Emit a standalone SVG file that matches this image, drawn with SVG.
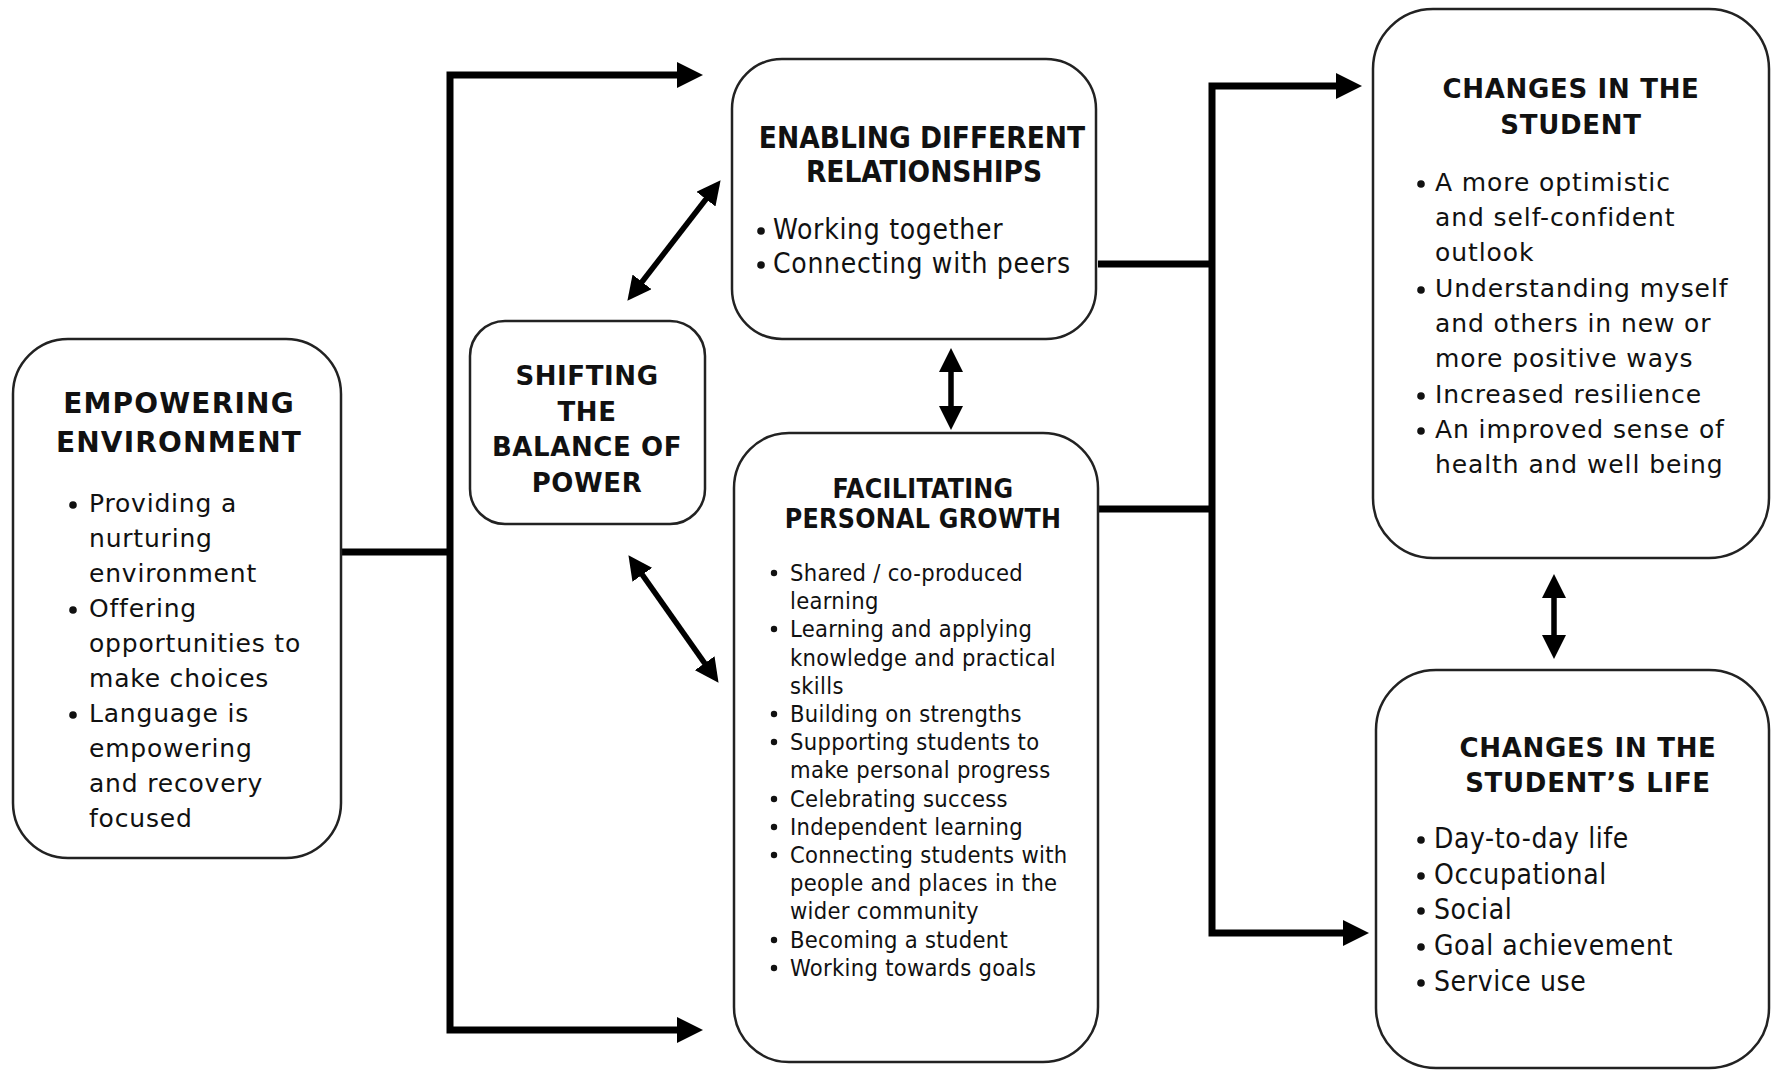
<svg xmlns="http://www.w3.org/2000/svg" width="1771" height="1070" viewBox="0 0 1771 1070">
<defs>
<marker id="ah" markerUnits="userSpaceOnUse" markerWidth="26" markerHeight="26" refX="6" refY="13" orient="auto-start-reverse">
<path d="M0,0 L26,13 L0,26 z" fill="#000"/>
</marker>
<marker id="dh" markerUnits="userSpaceOnUse" markerWidth="24" markerHeight="24" refX="5" refY="12" orient="auto-start-reverse">
<path d="M0,0 L24,12 L0,24 z" fill="#000"/>
</marker>
</defs>
<style>
.box{fill:#fff;stroke:#222;stroke-width:2.5}
.t{font-family:"DejaVu Sans",Verdana,sans-serif;fill:#111}
.tb{font-family:"DejaVu Sans",Verdana,sans-serif;font-weight:bold;fill:#111;text-anchor:middle}
.c{font-family:"DejaVu Sans Condensed","DejaVu Sans",sans-serif;font-stretch:condensed;fill:#111}
.cb{font-family:"DejaVu Sans Condensed","DejaVu Sans",sans-serif;font-stretch:condensed;font-weight:bold;fill:#111;text-anchor:middle}
.dot{fill:#111}
.con{fill:none;stroke:#000;stroke-width:7;stroke-linejoin:miter}
.dbl{fill:none;stroke:#000;stroke-width:5.5}
</style>
<rect width="1771" height="1070" fill="#fff"/>

<g id="connectors">
<path class="con" d="M341,552 H450"/>
<path class="con" d="M683,75 H450 V1030 H683" marker-start="url(#ah)" marker-end="url(#ah)"/>
<path class="con" d="M1098,264 H1212"/>
<path class="con" d="M1098,509 H1212"/>
<path class="con" d="M1342,86 H1212 V933 H1349" marker-start="url(#ah)" marker-end="url(#ah)"/>
<path class="dbl" d="M639,285.8 L709,195.2" marker-start="url(#dh)" marker-end="url(#dh)"/>
<path class="dbl" d="M639.4,570.7 L707.6,667.3" marker-start="url(#dh)" marker-end="url(#dh)"/>
<path class="dbl" d="M951,367 V411" marker-start="url(#dh)" marker-end="url(#dh)"/>
<path class="dbl" d="M1554,593 V640" marker-start="url(#dh)" marker-end="url(#dh)"/>
</g>

<g id="empowering">
<rect class="box" x="13" y="339" width="328" height="519" rx="55"/>
<text class="tb" font-size="28" letter-spacing="1.2" x="179" y="413">EMPOWERING</text>
<text class="tb" font-size="28" letter-spacing="1.2" x="179" y="452">ENVIRONMENT</text>
<g class="t" font-size="25" letter-spacing="0.8">
<text x="89" y="512">Providing a</text>
<text x="89" y="547">nurturing</text>
<text x="89" y="582">environment</text>
<text x="89" y="617">Offering</text>
<text x="89" y="652">opportunities to</text>
<text x="89" y="687">make choices</text>
<text x="89" y="722">Language is</text>
<text x="89" y="757">empowering</text>
<text x="89" y="792">and recovery</text>
<text x="89" y="827">focused</text>
</g>
<circle class="dot" cx="73" cy="505" r="3.8"/>
<circle class="dot" cx="73" cy="610" r="3.8"/>
<circle class="dot" cx="73" cy="715" r="3.8"/>
</g>

<g id="shifting">
<rect class="box" x="470" y="321" width="235" height="203" rx="35"/>
<g class="tb" font-size="26" letter-spacing="0.6">
<text x="587" y="385">SHIFTING</text>
<text x="587" y="421">THE</text>
<text x="587" y="456">BALANCE OF</text>
<text x="587" y="492">POWER</text>
</g>
</g>

<g id="enabling">
<rect class="box" x="732" y="59" width="364" height="280" rx="50"/>
<text class="cb" font-size="29.5" x="922" y="148">ENABLING DIFFERENT</text>
<text class="cb" font-size="29.5" x="924" y="182">RELATIONSHIPS</text>
<g class="c" font-size="28" letter-spacing="0.7">
<text x="773" y="239">Working together</text>
<text x="773" y="273">Connecting with peers</text>
</g>
<circle class="dot" cx="761" cy="231" r="3.8"/>
<circle class="dot" cx="761" cy="265" r="3.8"/>
</g>

<g id="facilitating">
<rect class="box" x="734" y="433" width="364" height="629" rx="55"/>
<text class="cb" font-size="26.5" letter-spacing="0.3" x="923" y="498">FACILITATING</text>
<text class="cb" font-size="26.5" letter-spacing="0.3" x="923" y="528">PERSONAL GROWTH</text>
<g class="c" font-size="23.5" letter-spacing="0.3">
<text x="790" y="581">Shared / co-produced</text>
<text x="790" y="609">learning</text>
<text x="790" y="637">Learning and applying</text>
<text x="790" y="666">knowledge and practical</text>
<text x="790" y="694">skills</text>
<text x="790" y="722">Building on strengths</text>
<text x="790" y="750">Supporting students to</text>
<text x="790" y="778">make personal progress</text>
<text x="790" y="807">Celebrating success</text>
<text x="790" y="835">Independent learning</text>
<text x="790" y="863">Connecting students with</text>
<text x="790" y="891">people and places in the</text>
<text x="790" y="919">wider community</text>
<text x="790" y="948">Becoming a student</text>
<text x="790" y="976">Working towards goals</text>
</g>
<circle class="dot" cx="774" cy="573" r="3.2"/>
<circle class="dot" cx="774" cy="629" r="3.2"/>
<circle class="dot" cx="774" cy="714" r="3.2"/>
<circle class="dot" cx="774" cy="742" r="3.2"/>
<circle class="dot" cx="774" cy="799" r="3.2"/>
<circle class="dot" cx="774" cy="827" r="3.2"/>
<circle class="dot" cx="774" cy="855" r="3.2"/>
<circle class="dot" cx="774" cy="940" r="3.2"/>
<circle class="dot" cx="774" cy="968" r="3.2"/>
</g>

<g id="changes-student">
<rect class="box" x="1373" y="9" width="396" height="549" rx="60"/>
<text class="tb" font-size="26" letter-spacing="0.7" x="1571" y="98">CHANGES IN THE</text>
<text class="tb" font-size="26" letter-spacing="0.7" x="1571" y="134">STUDENT</text>
<g class="t" font-size="25" letter-spacing="0.9">
<text x="1435" y="191">A more optimistic</text>
<text x="1435" y="226">and self-confident</text>
<text x="1435" y="261">outlook</text>
<text x="1435" y="297">Understanding myself</text>
<text x="1435" y="332">and others in new or</text>
<text x="1435" y="367">more positive ways</text>
<text x="1435" y="403">Increased resilience</text>
<text x="1435" y="438">An improved sense of</text>
<text x="1435" y="473">health and well being</text>
</g>
<circle class="dot" cx="1421" cy="184" r="3.8"/>
<circle class="dot" cx="1421" cy="290" r="3.8"/>
<circle class="dot" cx="1421" cy="396" r="3.8"/>
<circle class="dot" cx="1421" cy="431" r="3.8"/>
</g>

<g id="changes-life">
<rect class="box" x="1376" y="670" width="393" height="398" rx="60"/>
<text class="tb" font-size="26" letter-spacing="0.7" x="1588" y="757">CHANGES IN THE</text>
<text class="tb" font-size="26" letter-spacing="0.7" x="1588" y="792">STUDENT’S LIFE</text>
<g class="c" font-size="28" letter-spacing="0.6">
<text x="1434" y="848">Day-to-day life</text>
<text x="1434" y="884">Occupational</text>
<text x="1434" y="919">Social</text>
<text x="1434" y="955">Goal achievement</text>
<text x="1434" y="991">Service use</text>
</g>
<circle class="dot" cx="1421" cy="840" r="3.8"/>
<circle class="dot" cx="1421" cy="876" r="3.8"/>
<circle class="dot" cx="1421" cy="911" r="3.8"/>
<circle class="dot" cx="1421" cy="947" r="3.8"/>
<circle class="dot" cx="1421" cy="983" r="3.8"/>
</g>
</svg>
